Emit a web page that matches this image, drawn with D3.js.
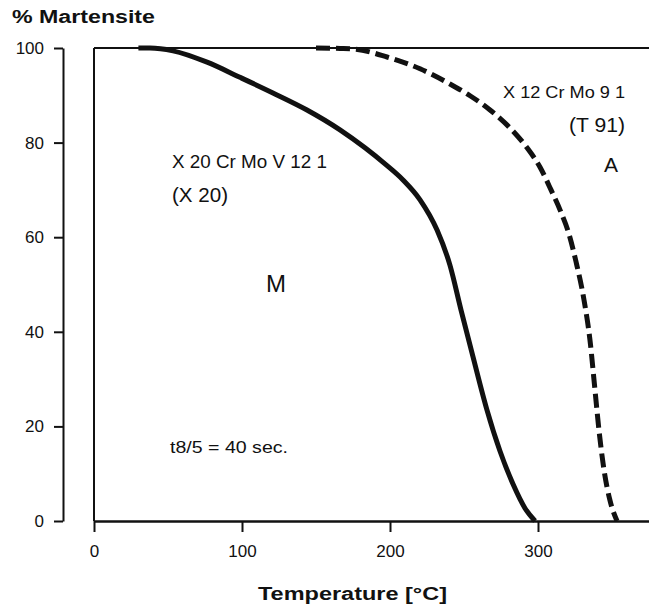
<!DOCTYPE html>
<html>
<head>
<meta charset="utf-8">
<script src="https://cdn.jsdelivr.net/npm/d3@7"></script>
<style>
  html, body { margin: 0; padding: 0; background: #fff; }
  svg { display: block; }
</style>
</head>
<body>
<div id="vis"></div>
<script>
// values
var xTicks = [0, 100, 200, 300];
var yTicks = [0, 20, 40, 60, 80, 100];

// X 20 Cr Mo V 12 1 (solid)
var x20Temp = [30, 37.8, 53.4, 76.4, 98.6, 120.9, 143.9, 166.2, 183.1, 196.6, 208.8, 220.3, 231.8, 240.5, 248, 256.1, 265.5, 274.3, 283.1, 291.2, 298];
var x20Mart = [100, 100, 99.4, 97.0, 93.8, 90.5, 86.9, 82.7, 78.9, 75.5, 72.1, 67.9, 61.5, 54.1, 44.6, 34.7, 23.5, 14.8, 7.8, 2.7, 0];

// X 12 Cr Mo 9 1 (dashed)
var t91Temp = [150, 166.2, 175, 198, 220.3, 240.5, 254.1, 267.6, 281.1, 292.6, 301.4, 308.8, 315.5, 320.9, 325.7, 331.1, 335.1, 338.5, 341.2, 344.6, 348.6, 353.4];
var t91Mart = [100, 99.9, 99.8, 98.1, 95.6, 92.4, 89.9, 86.9, 83.1, 78.9, 74.8, 70, 65.3, 60.7, 54.8, 46.7, 38.3, 27.7, 19.2, 10.8, 4.4, 0];

var width = 649, height = 607;
var ink = "#111";
var font = "'Liberation Sans', Arial, sans-serif";

var svg = d3.select("#vis").append("svg")
    .attr("width", width)
    .attr("height", height);

var x = d3.scaleLinear().domain([0, 375]).range([94, 649]);
var y = d3.scaleLinear().domain([0, 100]).range([521, 48]);

// y axis (separate from the plot box)
var yAxis = svg.append("g")
    .attr("transform", "translate(63,0)")
    .call(d3.axisLeft(y).tickValues(yTicks).tickSize(9).tickSizeOuter(0).tickPadding(10));
yAxis.select(".domain").attr("stroke", ink).attr("stroke-width", 2);
yAxis.selectAll(".tick line").attr("stroke", ink).attr("stroke-width", 2);
yAxis.selectAll("text")
    .style("font-family", font)
    .style("font-size", "17px")
    .attr("fill", ink);

// x axis along the bottom of the box
var xAxis = svg.append("g")
    .attr("transform", "translate(0,521)")
    .call(d3.axisBottom(x).tickValues(xTicks).tickSize(11).tickSizeOuter(0).tickPadding(13));
xAxis.select(".domain").attr("stroke", ink).attr("stroke-width", 2.5);
xAxis.selectAll(".tick line").attr("stroke", ink).attr("stroke-width", 2);
xAxis.selectAll("text")
    .style("font-family", font)
    .style("font-size", "17px")
    .attr("fill", ink);

// plot box: left and top edges
svg.append("line")
    .attr("x1", x(0)).attr("x2", x(0))
    .attr("y1", y(0)).attr("y2", y(100))
    .attr("stroke", ink).attr("stroke-width", 2);
svg.append("line")
    .attr("x1", x(0)).attr("x2", width)
    .attr("y1", y(100)).attr("y2", y(100))
    .attr("stroke", ink).attr("stroke-width", 2);

// curves
var line = d3.line()
    .x(function(d) { return x(d[0]); })
    .y(function(d) { return y(d[1]); })
    .curve(d3.curveMonotoneX);

svg.append("path")
    .datum(d3.zip(x20Temp, x20Mart))
    .attr("d", line)
    .attr("fill", "none")
    .attr("stroke", ink)
    .attr("stroke-width", 5);

svg.append("path")
    .datum(d3.zip(t91Temp, t91Mart))
    .attr("d", line)
    .attr("fill", "none")
    .attr("stroke", ink)
    .attr("stroke-width", 5)
    .attr("stroke-dasharray", "14,6");

// titles
svg.append("text")
    .attr("x", 12).attr("y", 23)
    .attr("textLength", 143).attr("lengthAdjust", "spacingAndGlyphs")
    .style("font-family", font)
    .style("font-weight", "bold")
    .style("font-size", "18px")
    .attr("fill", ink)
    .text("% Martensite");

svg.append("text")
    .attr("x", 258).attr("y", 600)
    .attr("textLength", 189).attr("lengthAdjust", "spacingAndGlyphs")
    .style("font-family", font)
    .style("font-weight", "bold")
    .style("font-size", "18px")
    .attr("fill", ink)
    .text("Temperature [°C]");

// annotations inside the plot
function note(tx, ty, size, len, str, anchor) {
    var t = svg.append("text")
        .attr("x", tx).attr("y", ty)
        .attr("text-anchor", anchor || "start")
        .style("font-family", font)
        .style("font-size", size + "px")
        .attr("fill", ink)
        .text(str);
    if (len) t.attr("textLength", len).attr("lengthAdjust", "spacingAndGlyphs");
    return t;
}

note(172, 168, 17.5, 155, "X 20 Cr Mo V 12 1");
note(172, 202, 21, 56, "(X 20)");
note(276, 292, 24, null, "M", "middle");
note(170, 453, 17, 118, "t8/5 =  40 sec.");
note(503, 98, 17, 122, "X 12 Cr Mo 9 1");
note(569, 132, 21, 56, "(T 91)");
note(611, 172, 21, null, "A", "middle");
</script>
</body>
</html>
